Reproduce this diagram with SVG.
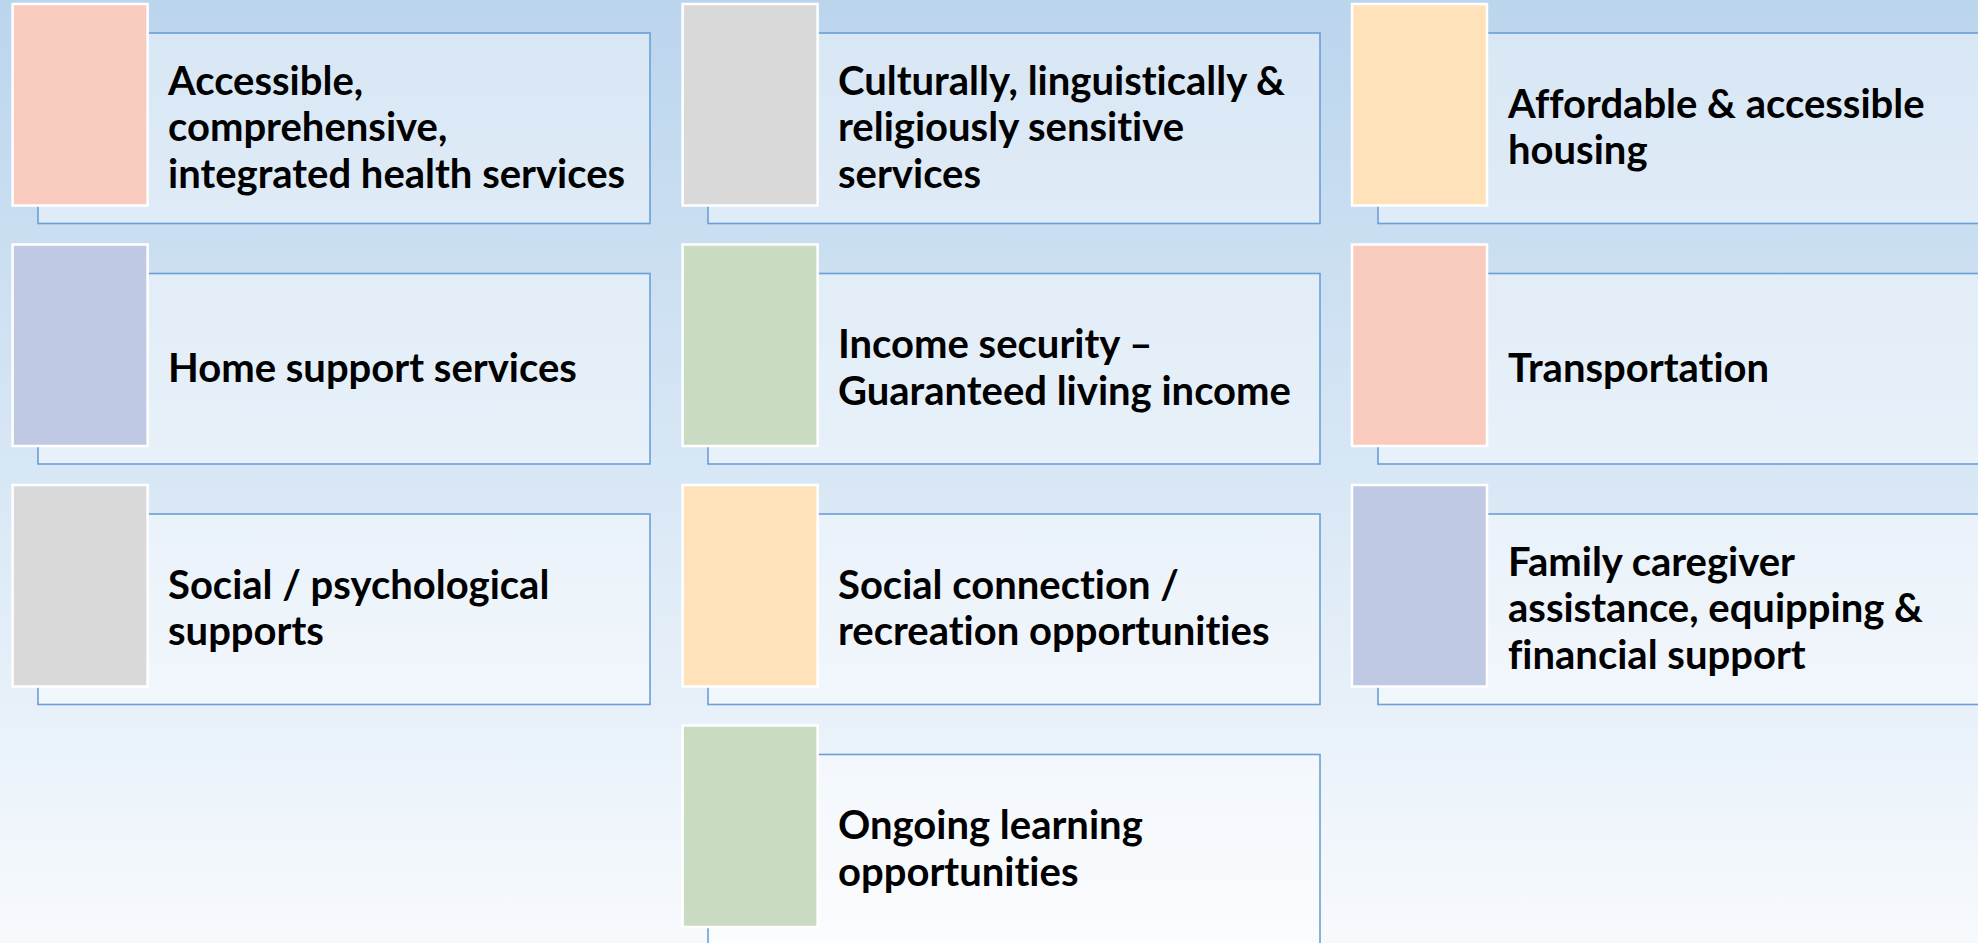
<svg xmlns="http://www.w3.org/2000/svg" width="1978" height="943" viewBox="0 0 1978 943">
<defs>
<linearGradient id="bg" x1="0" y1="0" x2="0" y2="1">
<stop offset="0" stop-color="#bbd5ed"/>
<stop offset="0.5" stop-color="#d8e7f5"/>
<stop offset="1" stop-color="#f7fafd"/>
</linearGradient>
<style>
.panel{fill:#ffffff;fill-opacity:0.42;stroke:#6a9fd8;stroke-width:1.6}
.sq{stroke:#ffffff;stroke-width:2.5}
.pink{fill:#f8cbbe}.gray{fill:#d9d9d9}.peach{fill:#ffe1ba}.lav{fill:#bfc9e4}.green{fill:#c9dbc1}
.t{font-family:"Lato","Open Sans","Liberation Sans",sans-serif;font-weight:700;font-size:40px;fill:#000;font-variant-ligatures:none;font-feature-settings:"liga" 0,"clig" 0}
</style>
</defs>
<rect x="0" y="0" width="1978" height="943" fill="url(#bg)"/>
<g id="connectors"/>
<g id="n1">
<rect class="panel" x="38" y="33" width="612" height="190.5"/>
<rect class="sq pink" x="12.6" y="4" width="135" height="201.5"/>
<text class="t" x="168"><tspan x="168" y="94.5">Accessible,</tspan><tspan x="168" y="141">comprehensive,</tspan><tspan x="168" y="187.5">integrated health services</tspan></text>
</g>
<g id="n2">
<rect class="panel" x="38" y="273.5" width="612" height="190.5"/>
<rect class="sq lav" x="12.6" y="244.5" width="135" height="201.5"/>
<text class="t" x="168" y="381.5">Home support services</text>
</g>
<g id="n3">
<rect class="panel" x="38" y="514" width="612" height="190.5"/>
<rect class="sq gray" x="12.6" y="485" width="135" height="201.5"/>
<text class="t"><tspan x="168" y="598.75">Social / psychological</tspan><tspan x="168" y="645.25">supports</tspan></text>
</g>
<g id="n4">
<rect class="panel" x="708" y="33" width="612" height="190.5"/>
<rect class="sq gray" x="682.6" y="4" width="135" height="201.5"/>
<text class="t"><tspan x="838" y="94.5">Culturally, linguistically &amp;</tspan><tspan x="838" y="141">religiously sensitive</tspan><tspan x="838" y="187.5">services</tspan></text>
</g>
<g id="n5">
<rect class="panel" x="708" y="273.5" width="612" height="190.5"/>
<rect class="sq green" x="682.6" y="244.5" width="135" height="201.5"/>
<text class="t"><tspan x="838" y="358.25">Income security –</tspan><tspan x="838" y="404.75">Guaranteed living income</tspan></text>
</g>
<g id="n6">
<rect class="panel" x="708" y="514" width="612" height="190.5"/>
<rect class="sq peach" x="682.6" y="485" width="135" height="201.5"/>
<text class="t"><tspan x="838" y="598.75">Social connection /</tspan><tspan x="838" y="645.25">recreation opportunities</tspan></text>
</g>
<g id="n7">
<rect class="panel" x="708" y="754.5" width="612" height="190.5"/>
<rect class="sq green" x="682.6" y="725.5" width="135" height="201.5"/>
<text class="t"><tspan x="838" y="839.25">Ongoing learning</tspan><tspan x="838" y="885.75">opportunities</tspan></text>
</g>
<g id="n8">
<rect class="panel" x="1378" y="33" width="612" height="190.5"/>
<rect class="sq peach" x="1352" y="4" width="135" height="201.5"/>
<text class="t"><tspan x="1508" y="117.75">Affordable &amp; accessible</tspan><tspan x="1508" y="164.25">housing</tspan></text>
</g>
<g id="n9">
<rect class="panel" x="1378" y="273.5" width="612" height="190.5"/>
<rect class="sq pink" x="1352" y="244.5" width="135" height="201.5"/>
<text class="t" x="1508" y="381.5">Transportation</text>
</g>
<g id="n10">
<rect class="panel" x="1378" y="514" width="612" height="190.5"/>
<rect class="sq lav" x="1352" y="485" width="135" height="201.5"/>
<text class="t"><tspan x="1508" y="575.5">Family caregiver</tspan><tspan x="1508" y="622">assistance, equipping &amp;</tspan><tspan x="1508" y="668.5">financial support</tspan></text>
</g>
</svg>
